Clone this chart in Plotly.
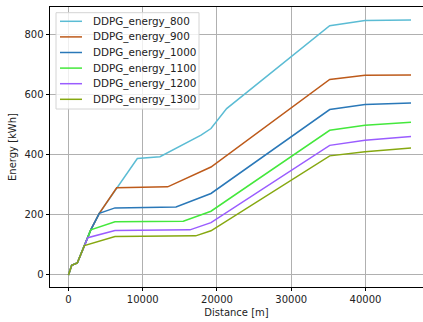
import plotly.graph_objects as go

# Data (distance [m], energy [kWh])
names = ["DDPG_energy_800", "DDPG_energy_900", "DDPG_energy_1000",
         "DDPG_energy_1100", "DDPG_energy_1200", "DDPG_energy_1300"]

x_800 = [0, 430, 1185, 2200, 3000, 4150, 6490, 9270, 12320, 17850, 19190, 21300, 35180, 39930, 46130]
y_800 = [0, 32, 40, 100, 150, 205, 290, 387, 393, 465, 487, 553, 829, 846, 848]

x_900 = [0, 430, 1185, 2200, 3000, 4150, 6490, 13360, 19190, 35180, 39930, 46130]
y_900 = [0, 32, 40, 100, 150, 205, 290, 293, 359, 650, 664, 665]

x_1000 = [0, 430, 1185, 2200, 3000, 4150, 6263, 14480, 19190, 35180, 39930, 46130]
y_1000 = [0, 32, 40, 100, 150, 205, 223, 226, 271, 550, 567, 572]

x_1100 = [0, 430, 1185, 2200, 3000, 6263, 15460, 19190, 35180, 39930, 46130]
y_1100 = [0, 32, 40, 100, 150, 177, 179, 212, 481, 498, 508]

x_1200 = [0, 430, 1185, 2200, 2600, 6263, 16360, 19190, 35180, 39930, 46130]
y_1200 = [0, 32, 40, 100, 124, 148, 150, 174, 431, 448, 460]

x_1300 = [0, 430, 1185, 2150, 6263, 17130, 19190, 35180, 39930, 46130]
y_1300 = [0, 32, 40, 98, 128, 130, 147, 396, 410, 422]

xs = [x_800, x_900, x_1000, x_1100, x_1200, x_1300]
ys = [y_800, y_900, y_1000, y_1100, y_1200, y_1300]
colors = ["#5bbcd4", "#bd5a1a", "#2a78b8", "#44e83c", "#9a5cff", "#86a810"]

x_ticks = [0, 10000, 20000, 30000, 40000]
x_ticklabels = ["0", "10000", "20000", "30000", "40000"]
y_ticks = [0, 200, 400, 600, 800]
y_ticklabels = ["0", "200", "400", "600", "800"]

FONT = "DejaVu Sans"
W, H = 423, 322
ML, MR, MT, MB = 50, 0, 7, 35
PW, PH = W - ML - MR, H - MT - MB


def px_x(px):
    return (px - ML) / PW


def px_y(py):
    return 1 - (py - MT) / PH


fig = go.Figure()
for n, xv, yv, c in zip(names, xs, ys, colors):
    fig.add_trace(go.Scatter(x=xv, y=yv, mode="lines", name=n,
                             line=dict(color=c, width=1.5), showlegend=False))

# Matplotlib-style legend drawn as layout decorations
shapes = [dict(type="rect", xref="paper", yref="paper",
               x0=px_x(56), x1=px_x(199), y0=px_y(109), y1=px_y(12.7),
               fillcolor="rgba(255,255,255,0.8)", line=dict(color="#d4d4d4", width=1),
               layer="above")]
annotations = []
row0, step = 21.3, 15.6
for i, (n, c) in enumerate(zip(names, colors)):
    ry = row0 + i * step
    shapes.append(dict(type="line", xref="paper", yref="paper",
                       x0=px_x(60), x1=px_x(82), y0=px_y(ry), y1=px_y(ry),
                       line=dict(color=c, width=1.5), layer="above"))
    annotations.append(dict(xref="paper", yref="paper", x=px_x(90.5), y=px_y(ry),
                            xanchor="left", yanchor="middle", showarrow=False,
                            text=n, font=dict(family=FONT, size=10.4, color="#222")))

fig.update_layout(
    width=W, height=H,
    margin=dict(l=ML, r=MR, t=MT, b=MB),
    paper_bgcolor="white", plot_bgcolor="white",
    font=dict(family=FONT, size=10, color="#222"),
    showlegend=False,
    shapes=shapes, annotations=annotations,
)
fig.update_xaxes(
    range=[-2490, 47745], tickvals=x_ticks, ticktext=x_ticklabels,
    showgrid=True, gridcolor="#b0b0b0", gridwidth=0.8,
    showline=True, linecolor="black", linewidth=0.8, mirror=True,
    ticks="outside", ticklen=3.5, tickwidth=0.8, tickcolor="black",
    zeroline=False,
    title=dict(text="Distance [m]", font=dict(family=FONT, size=10), standoff=4),
)
fig.update_yaxes(
    range=[-40, 891], tickvals=y_ticks, ticktext=y_ticklabels,
    showgrid=True, gridcolor="#b0b0b0", gridwidth=0.8,
    showline=True, linecolor="black", linewidth=0.8, mirror=False,
    ticks="outside", ticklen=3.5, tickwidth=0.8, tickcolor="black",
    zeroline=False,
    title=dict(text="Energy [kWh]", font=dict(family=FONT, size=10), standoff=6),
)

fig.write_html("out.html")
